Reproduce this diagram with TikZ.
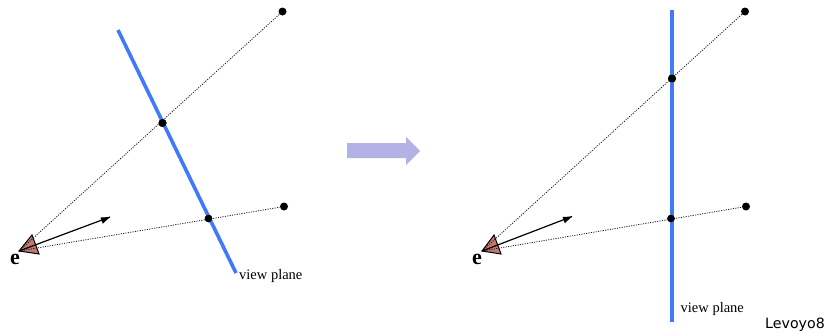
\documentclass[tikz,border=0pt]{standalone}
\usepackage{fontspec}
\setmainfont{Liberation Serif}
\newfontfamily\lblsans{DejaVu Sans}
\begin{document}
\begin{tikzpicture}[x=1pt,y=-1pt,
  pt/.style={circle,fill=black,inner sep=0pt,minimum size=8pt},
  smallpt/.style={circle,fill=black,inner sep=0pt,minimum size=7.5pt},
  sight/.style={dash pattern=on 1.1pt off 1.3pt,line width=0.8pt,black!90},
  plane/.style={line width=3.6pt,color=planeblue},
  eyeshape/.style={draw=black,fill=eyered,line width=1pt,line join=miter},
  viewline/.style={line width=1.2pt},
  lbl/.style={inner sep=0pt,font=\fontsize{14.5}{16}\selectfont},
  elbl/.style={inner sep=0pt,font=\fontsize{22}{24}\selectfont\bfseries}]
\definecolor{planeblue}{RGB}{64,122,250}
\definecolor{eyered}{RGB}{196,120,112}
\definecolor{arrowfill}{RGB}{178,178,230}
\useasboundingbox (0,0) rectangle (827,335);
% left
\coordinate (E1) at (19,251);
\coordinate (E1a) at (32,235);
\coordinate (E1b) at (39,254);
\coordinate (P1s) at (118,30);
\coordinate (P1e) at (236,273);
\coordinate (D1t) at (110,217);
\node[pt] (A1) at (282.5,11.5) {};
\node[pt] (B1) at (162.5,123) {};
\node[pt] (C1) at (284,206.5) {};
\node[smallpt] (F1) at (208.5,218.5) {};
\draw[plane] (P1s) -- (P1e);
\draw[eyeshape] (E1) -- (E1a) -- (E1b) -- cycle;
\draw[sight] (E1) -- (A1);
\draw[sight] (E1) -- (C1);
\draw[viewline] (E1) -- (D1t);
\fill (D1t) -- ++(-9.5,0.5) -- ++(2.3,6.2) -- cycle;
\node[pt] at (B1) {};
\node[smallpt] at (F1) {};
\node[elbl] (e1) at (15,259.5) {e};
\node[lbl,anchor=west] (v1) at (239,276.5) {view plane};
% big arrow
\fill[arrowfill] (347,143) -- (406,143) -- (406,137) -- (420,151) -- (406,165) -- (406,158) -- (347,158) -- cycle;
% right
\coordinate (E2) at (482,251);
\coordinate (E2a) at (494,235);
\coordinate (E2b) at (501,254);
\coordinate (P2s) at (672,10);
\coordinate (P2e) at (672,322);
\coordinate (D2t) at (572,216.5);
\node[pt] (A2) at (745,11.5) {};
\node[pt] (B2) at (672,78.5) {};
\node[pt] (C2) at (746,206.5) {};
\node[smallpt] (F2) at (671,218.5) {};
\draw[plane] (P2s) -- (P2e);
\draw[eyeshape] (E2) -- (E2a) -- (E2b) -- cycle;
\draw[sight] (E2) -- (A2);
\draw[sight] (E2) -- (C2);
\draw[viewline] (E2) -- (D2t);
\fill (D2t) -- ++(-9.5,0.5) -- ++(2.3,6.2) -- cycle;
\node[pt] at (B2) {};
\node[smallpt] at (F2) {};
\node[elbl] (e2) at (477,259.5) {e};
\node[lbl,anchor=west] (v2) at (680.5,309.5) {view plane};
\node[inner sep=0pt,anchor=east,font=\lblsans\fontsize{14.2}{16}\selectfont] (src) at (825,325) {Levoyo8};
\end{tikzpicture}
\end{document}
